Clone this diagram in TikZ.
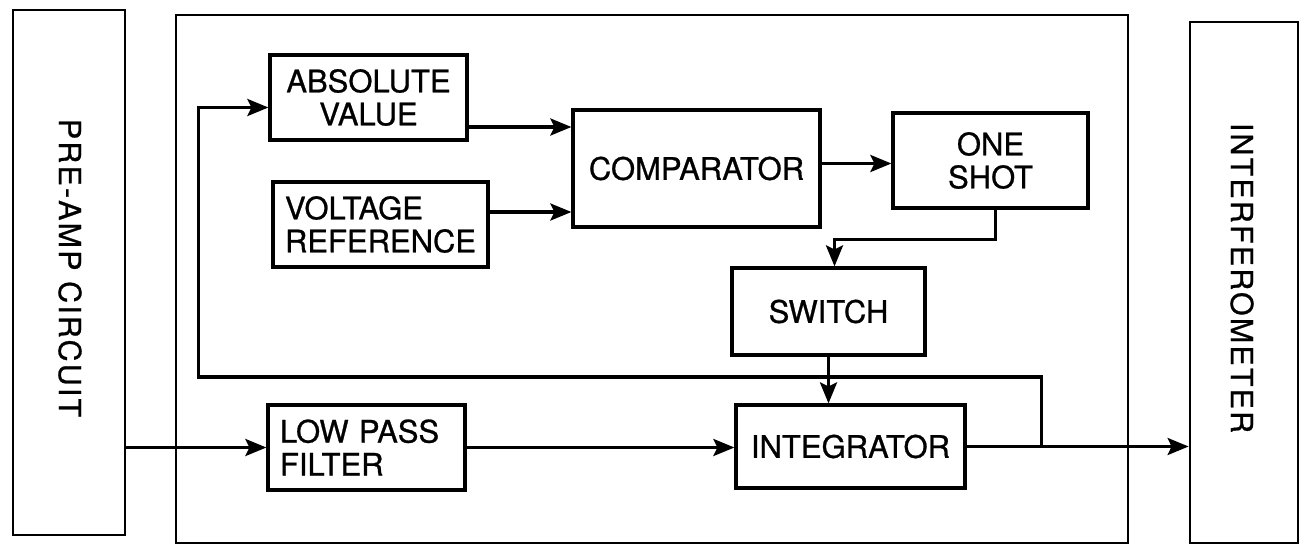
\documentclass[tikz,border=0pt]{standalone}
\usepackage{fontspec}
\setmainfont{TeX Gyre Heros}
\usetikzlibrary{arrows.meta}
\newcommand\blkfont{\fontsize{31}{33}\selectfont\addfontfeature{FakeBold=0.8}}
\newcommand\sidefont{\fontsize{30.5}{33}\selectfont\addfontfeature{LetterSpace=7,FakeBold=0.8}}
\begin{document}
\begin{tikzpicture}[x=1pt,y=-1pt,
  outer/.style={draw, line width=2.8pt, inner sep=0pt},
  blk/.style={draw, line width=3.2pt, inner sep=0pt, align=center, font=\blkfont},
  sidetext/.style={rotate=-90, inner sep=0pt, font=\sidefont},
  arr/.style={line width=3.2pt, -{Stealth[length=21pt,width=17pt,inset=4pt]}},
  wire/.style={line width=3.2pt}]
\useasboundingbox (0,0) rectangle (1301,546);

% outer units
\node[outer, minimum width=112pt, minimum height=525pt] (preamp) at (69,272.5) {};
\node[sidetext] (preamplbl) at (70,268) {PRE-AMP CIRCUIT};
\node[outer, minimum width=952pt, minimum height=528pt] (board) at (652,279) {};
\node[outer, minimum width=108pt, minimum height=521pt] (interf) at (1244,282.5) {};
\node[sidetext] (interflbl) at (1242,278) {INTERFEROMETER};

% functional blocks on the board
\node[blk, minimum width=197pt, minimum height=85pt] (absval) at (368.5,97.5) {ABSOLUTE\\VALUE};
\node[blk, minimum width=215pt, minimum height=85pt, align=left] (vref) at (380.5,224.5) {VOLTAGE\\REFERENCE};
\node[blk, minimum width=247pt, minimum height=117pt] (comp) at (696.5,168.5) {COMPARATOR};
\node[blk, minimum width=195pt, minimum height=95pt] (oneshot) at (990.5,160.5) {ONE\\SHOT};
\node[blk, minimum width=193pt, minimum height=87pt] (switch) at (828.5,311.5) {SWITCH};
\node[blk, minimum width=229pt, minimum height=83pt] (integ) at (850.5,446.5) {INTEGRATOR};
\node[blk, minimum width=197pt, minimum height=85pt, align=left, text width=173pt] (lpf) at (366.5,447.5) {LOW PASS\\FILTER};

% signal path
\draw[arr] (preamp.east |- lpf.west) -- (lpf.west);
\draw[arr] (lpf.east) -- (lpf.east -| integ.west);
\draw[arr] (integ.east) -- (integ.east -| interf.west);

% feedback loop from the integrator output
\path (integ.east) ++(75,0) coordinate (tap);
\path (tap) ++(0,-69.5) coordinate (fbR);
\path (board.west |- fbR) ++(24,0) coordinate (fbL);
\draw[arr] (tap) -- (fbR) -- (fbL) |- ([yshift=-10pt]absval.west);

% comparator inputs and output
\coordinate (absout) at ([yshift=-29.5pt]absval.east);
\draw[arr] (absout) -- (absout -| comp.west);
\coordinate (refout) at ([yshift=12.5pt]vref.east);
\draw[arr] (refout) -- (refout -| comp.west);
\coordinate (cmpout) at ([yshift=5pt]comp.east);
\draw[arr] (cmpout) -- (cmpout -| oneshot.west);

% one shot drives the switch, switch drives the integrator
\draw[arr] ([xshift=5pt]oneshot.south) -- ++(0,30) -| ([xshift=6pt]switch.north);
\draw[arr] (switch.south) -- (switch.south |- integ.north);
\end{tikzpicture}
\end{document}
